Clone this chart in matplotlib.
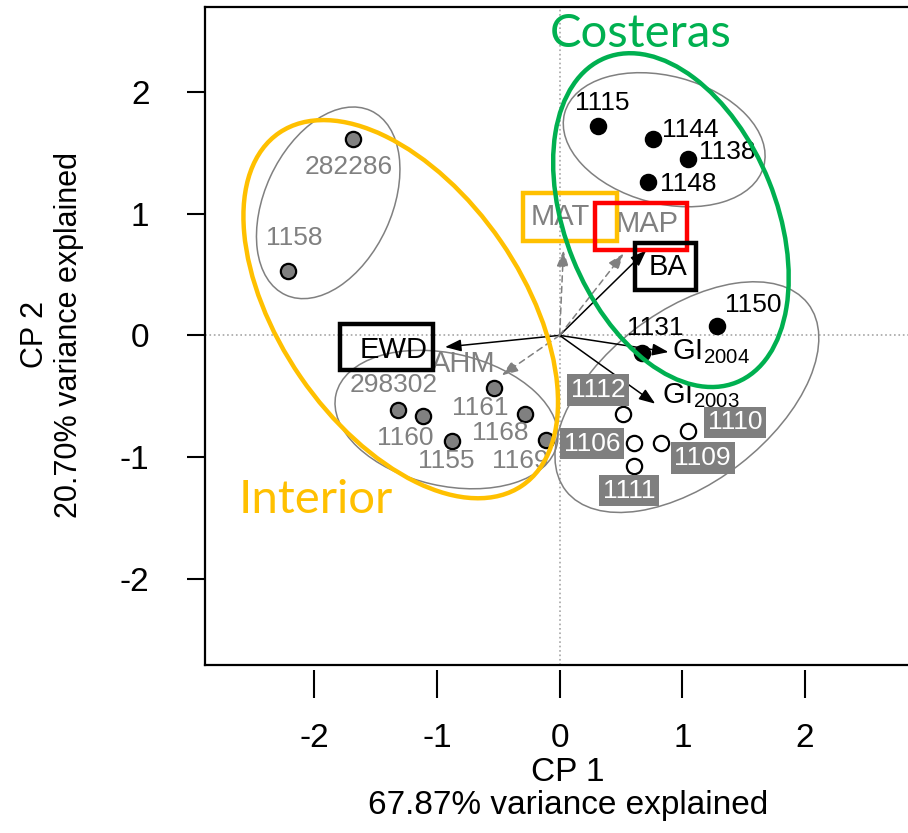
import matplotlib
matplotlib.use('Agg')
import matplotlib.pyplot as plt
from matplotlib.patches import Ellipse, Rectangle
from matplotlib.transforms import blended_transform_factory

plt.rcParams['font.family'] = ['Liberation Sans', 'DejaVu Sans']
plt.rcParams['mathtext.fontset'] = 'custom'
plt.rcParams['mathtext.rm'] = 'Liberation Sans'
plt.rcParams['mathtext.it'] = 'Liberation Sans:italic'

# ---------------- data ----------------
# site scores (CP1, CP2)
site_names = ['1115', '1144', '1138', '1148', '1150', '1131',
              '282286', '1158', '298302', '1160', '1155', '1161', '1168', '1169',
              '1112', '1106', '1111', '1109', '1110']
site_x = [0.316, 0.760, 1.046, 0.724, 1.282, 0.675,
          -1.687, -2.212, -1.315, -1.111, -0.874, -0.534, -0.281, -0.110,
          0.520, 0.608, 0.608, 0.825, 1.046]
site_y = [1.716, 1.615, 1.451, 1.259, 0.074, -0.145,
          1.615, 0.528, -0.616, -0.665, -0.868, -0.429, -0.649, -0.856,
          -0.649, -0.884, -1.076, -0.884, -0.786]
site_group = ['black'] * 6 + ['grey'] * 8 + ['open'] * 5

# label positions for sites (layout)
label_x = [0.347, 1.064, 1.364, 1.048, 1.581, 0.779,
           -1.723, -2.166, -1.356, -1.260, -0.920, -0.648, -0.485, -0.322,
           0.314, 0.265, 0.567, 1.165, 1.429]
label_y = [1.907, 1.689, 1.505, 1.240, 0.246, 0.063,
           1.382, 0.802, -0.411, -0.840, -1.034, -0.594, -0.799, -1.034,
           -0.449, -0.889, -1.275, -1.006, -0.714]

# variable loadings (arrows)
var_names = ['EWD', 'AHM', 'GI$_{\\mathregular{2004}}$', 'GI$_{\\mathregular{2003}}$', 'BA', 'MAP', 'MAT']
var_x = [-0.934, -0.471, 0.887, 0.779, 0.706, 0.520, 0.031]
var_y = [-0.096, -0.328, -0.137, -0.561, 0.698, 0.671, 0.698]
var_solid = [True, False, True, True, True, False, False]
var_lab_x = [-1.356, -0.785, 0.915, 0.834, 0.885, 0.711, 0.004]
var_lab_y = [-0.123, -0.232, -0.137, -0.493, 0.561, 0.917, 0.971]
var_lab_ha = ['center', 'center', 'left', 'left', 'center', 'center', 'center']

# group ellipses: centre x, centre y, semi-axis a, semi-axis b, angle (deg)
ell_grey = [(-1.886, 1.088, 0.832, 0.518, 65.4),
            (0.852, 1.606, 0.840, 0.523, -15.1),
            (-0.922, -0.691, 0.924, 0.543, -13.0),
            (1.037, -0.507, 1.25, 0.70, 38.0)]
ell_costeras = (0.907, 0.946, 1.435, 0.86, -68.2)
ell_interior = (-1.295, 0.215, 1.754, 0.988, -55.7)

# highlight boxes: x0, x1, y0, y1, colour
boxes = [(-0.298, 0.467, 0.774, 1.168, '#FFC000'),
         (0.290, 1.040, 0.704, 1.086, '#FF0000'),
         (0.616, 1.113, 0.375, 0.761, '#000000'),
         (-1.790, -1.029, -0.287, 0.096, '#000000')]

xticks = [-2, -1, 0, 1, 2]
yticks = [-2, -1, 0, 1, 2]

GREY = '#808080'

# ---------------- figure ----------------
fig = plt.figure(figsize=(9.08, 8.33), dpi=100)
ax = fig.add_axes([205 / 908, 1 - 665 / 833, 1 - 205 / 908, (665 - 6.7) / 833])
ax.set_xlim(-2.890, 2.839)
ax.set_ylim(-2.706, 2.698)

ax.axhline(0, color='#a6a6a6', lw=1.2, ls=':', zorder=0)
ax.axvline(0, color='#a6a6a6', lw=1.2, ls=':', zorder=0)

for cx, cy, a, b, ang in ell_grey:
    ax.add_patch(Ellipse((cx, cy), 2 * a, 2 * b, angle=ang, fill=False,
                         ec=GREY, lw=1.1, zorder=1))

# arrows
for vx, vy, solid in zip(var_x, var_y, var_solid):
    col = 'black' if solid else GREY
    ls = '-' if solid else (0, (4, 3))
    ax.annotate('', xy=(vx, vy), xytext=(0, 0),
                arrowprops=dict(arrowstyle='-|>,head_length=0.75,head_width=0.28',
                                color=col, lw=1.1, ls=ls, shrinkA=0, shrinkB=0,
                                mutation_scale=13), zorder=2)

for name, lx, ly, ha, solid in zip(var_names, var_lab_x, var_lab_y, var_lab_ha, var_solid):
    ax.text(lx, ly, name, ha=ha, va='center', fontsize=21,
            color='black' if solid else GREY, zorder=3)

# points
for x, y, g in zip(site_x, site_y, site_group):
    if g == 'black':
        fc, ec = 'black', 'black'
    elif g == 'grey':
        fc, ec = GREY, 'black'
    else:
        fc, ec = 'white', 'black'
    ax.plot(x, y, 'o', ms=11, mfc=fc, mec=ec, mew=1.6, zorder=4)

for name, lx, ly, g in zip(site_names, label_x, label_y, site_group):
    if g == 'black':
        ax.text(lx, ly, name, ha='center', va='center', fontsize=19, color='black', zorder=5)
    elif g == 'grey':
        ax.text(lx, ly, name, ha='center', va='center', fontsize=19, color=GREY, zorder=5)
    else:
        ax.text(lx, ly, name, ha='center', va='center', fontsize=19, color='white', zorder=5,
                bbox=dict(boxstyle='square,pad=0.14', fc='#7f7f7f', ec='none'))

# highlight boxes
for x0, x1, y0, y1, col in boxes:
    ax.add_patch(Rectangle((x0, y0), x1 - x0, y1 - y0, fill=False, ec=col,
                           lw=3.2, zorder=6))

# group ellipses
for (cx, cy, a, b, ang), col in [(ell_costeras, '#00B050'), (ell_interior, '#FFC000')]:
    ax.add_patch(Ellipse((cx, cy), 2 * a, 2 * b, angle=ang, fill=False,
                         ec=col, lw=3.2, zorder=7))

ax.text(0.66, 2.47, 'Costeras', color='#00B050', fontsize=34,
        family=['Lato', 'DejaVu Sans'], ha='center', va='center', zorder=8)
ax.text(-1.986, -1.35, 'Interior', color='#FFC000', fontsize=34,
        family=['Lato', 'DejaVu Sans'], ha='center', va='center', zorder=8)

# axes styling
for s in ['left', 'top', 'bottom']:
    ax.spines[s].set_linewidth(1.6)
ax.spines['right'].set_visible(False)
ax.set_xticks(xticks)
ax.set_yticks(yticks)
ax.set_xticklabels([str(t) for t in xticks])
ax.set_yticklabels([str(t) for t in yticks])
ax.tick_params(axis='y', direction='out', length=13, width=1.5,
               labelsize=24, pad=27)
ax.tick_params(axis='x', direction='out', length=0, labelsize=24, pad=42)
# x tick marks drawn slightly detached from the frame (as in base R axis)
trans = blended_transform_factory(ax.transData, ax.transAxes)
for t in xticks:
    ax.plot([t, t], [-0.007, -0.05], color='black', lw=1.5, transform=trans,
            clip_on=False, solid_capstyle='butt')

fig.text(568 / 908, 1 - 789 / 833, 'CP 1\n67.87% variance explained',
         ha='center', va='center', fontsize=24, linespacing=1.1)
fig.text(52 / 908, 1 - 335 / 833, 'CP 2\n20.70% variance explained',
         ha='center', va='center', fontsize=22, linespacing=1.2, rotation=90)

fig.savefig('out.png', dpi=100)
